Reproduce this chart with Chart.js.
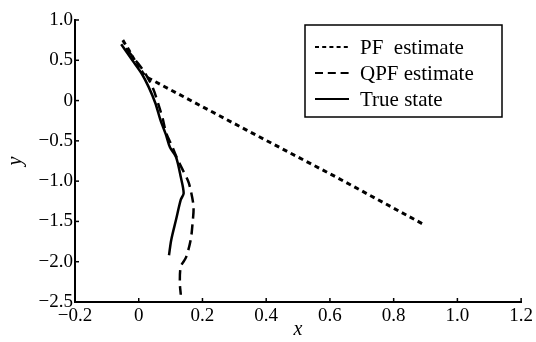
<!DOCTYPE html>
<html>
<head>
<meta charset="utf-8">
<script src="https://cdn.jsdelivr.net/npm/chart.js@4"></script>
<style>
  html, body { margin: 0; padding: 0; background: #fff; }
  #wrap { width: 536px; height: 342px; }
</style>
</head>
<body>
<div id="wrap"><canvas id="myChart" width="536" height="342"></canvas></div>
<script>
// data
const pfX = [-0.05, -0.03, -0.01, 0.015, 0.03, 0.34, 0.62, 0.90];
const pfY = [0.75, 0.62, 0.48, 0.33, 0.28, -0.37, -0.95, -1.55];

const qpfX = [-0.04, -0.01, 0.02, 0.045, 0.062, 0.075, 0.086, 0.105, 0.123, 0.154, 0.163, 0.172, 0.169, 0.163, 0.148, 0.132, 0.129, 0.132];
const qpfY = [0.65, 0.50, 0.34, 0.15, -0.05, -0.22, -0.40, -0.57, -0.74, -0.99, -1.11, -1.32, -1.52, -1.73, -1.95, -2.06, -2.26, -2.41];

const trueX = [-0.055, -0.02, 0.01, 0.031, 0.052, 0.068, 0.085, 0.098, 0.117, 0.132, 0.141, 0.132, 0.117, 0.102, 0.095];
const trueY = [0.70, 0.50, 0.33, 0.17, -0.03, -0.24, -0.42, -0.58, -0.70, -0.95, -1.15, -1.23, -1.48, -1.73, -1.92];

const seriesNames = ['PF  estimate', 'QPF estimate', 'True state'];
const xTicks = [-0.2, 0, 0.2, 0.4, 0.6, 0.8, 1.0, 1.2];
const yTicks = [1.0, 0.5, 0, -0.5, -1.0, -1.5, -2.0, -2.5];

const serif = "'Liberation Serif', 'DejaVu Serif', serif";

function toPoints(xs, ys) {
    return xs.map((x, i) => ({ x: x, y: ys[i] }));
}

function fmt(v) {
    if (Math.abs(v) < 1e-9) return '0';
    const s = Math.abs(v).toFixed(1);
    return v < 0 ? '\u2212' + s : s;
}

const dashes = [[5, 4], [10, 6], []];

// ticks pointing into the plot + boxed legend in the top right
const extras = {
    id: 'extras',
    afterDraw(c) {
        const ctx = c.ctx;
        const a = c.chartArea;
        const xs = c.scales.x, ys = c.scales.y;
        ctx.save();
        ctx.strokeStyle = '#000';
        ctx.lineWidth = 1.5;
        xTicks.forEach(v => {
            const px = xs.getPixelForValue(v);
            ctx.beginPath();
            ctx.moveTo(px, a.bottom);
            ctx.lineTo(px, a.bottom - 4);
            ctx.stroke();
        });
        yTicks.forEach(v => {
            const py = ys.getPixelForValue(v);
            ctx.beginPath();
            ctx.moveTo(a.left, py);
            ctx.lineTo(a.left + 4, py);
            ctx.stroke();
        });

        // legend
        const bx = 305, by = 25, bw = 197, bh = 92;
        ctx.lineWidth = 1.5;
        ctx.strokeRect(bx, by, bw, bh);
        ctx.font = '21px ' + serif;
        ctx.fillStyle = '#000';
        ctx.textBaseline = 'middle';
        seriesNames.forEach((name, i) => {
            const ly = 47 + i * 26;
            ctx.beginPath();
            ctx.setLineDash(dashes[i].length ? [dashes[i][0] * 0.8, dashes[i][1] * 0.8] : []);
            ctx.lineWidth = 2;
            ctx.moveTo(315, ly);
            ctx.lineTo(349, ly);
            ctx.stroke();
            ctx.setLineDash([]);
            ctx.fillText(name, 360, ly + 1);
        });
        ctx.restore();
    }
};

const ctx = document.getElementById('myChart').getContext('2d');
const chart = new Chart(ctx, {
    type: 'scatter',
    data: {
        datasets: [
            { label: seriesNames[0], data: toPoints(pfX, pfY), borderDash: dashes[0], borderWidth: 3 },
            { label: seriesNames[1], data: toPoints(qpfX, qpfY), borderDash: dashes[1], borderWidth: 2.5, tension: 0.3 },
            { label: seriesNames[2], data: toPoints(trueX, trueY), borderDash: dashes[2], borderWidth: 2.5, tension: 0.3 }
        ].map(d => Object.assign({
            showLine: true,
            pointRadius: 0,
            borderColor: '#000',
            backgroundColor: '#000',
            fill: false
        }, d))
    },
    options: {
        responsive: false,
        animation: false,
        layout: { padding: { top: 20, right: 2, left: 0, bottom: 0 } },
        plugins: {
            legend: { display: false },
            tooltip: { enabled: false }
        },
        scales: {
            x: {
                type: 'linear',
                min: -0.2,
                max: 1.2,
                afterBuildTicks: s => { s.ticks = xTicks.map(v => ({ value: v })); },
                afterFit: s => { s.height = 40; },
                ticks: {
                    callback: v => fmt(v),
                    color: '#000',
                    font: { family: serif, size: 19 },
                    padding: 3,
                    maxRotation: 0,
                    autoSkip: false
                },
                grid: { display: false, drawTicks: false },
                border: { color: '#000', width: 2 },
                title: {
                    display: true,
                    text: 'x',
                    color: '#000',
                    font: { family: serif, size: 20, style: 'italic' },
                    padding: { top: -8, bottom: 0 }
                }
            },
            y: {
                type: 'linear',
                min: -2.5,
                max: 1.0,
                afterBuildTicks: s => { s.ticks = yTicks.map(v => ({ value: v })); },
                afterFit: s => { s.width = 75; },
                ticks: {
                    callback: v => fmt(v),
                    color: '#000',
                    font: { family: serif, size: 19 },
                    padding: 2,
                    autoSkip: false
                },
                grid: { display: false, drawTicks: false },
                border: { color: '#000', width: 2 },
                title: {
                    display: true,
                    text: 'y',
                    color: '#000',
                    font: { family: serif, size: 20, style: 'italic' },
                    padding: { top: 4, bottom: 6 }
                }
            }
        }
    },
    plugins: [extras]
});
</script>
</body>
</html>
